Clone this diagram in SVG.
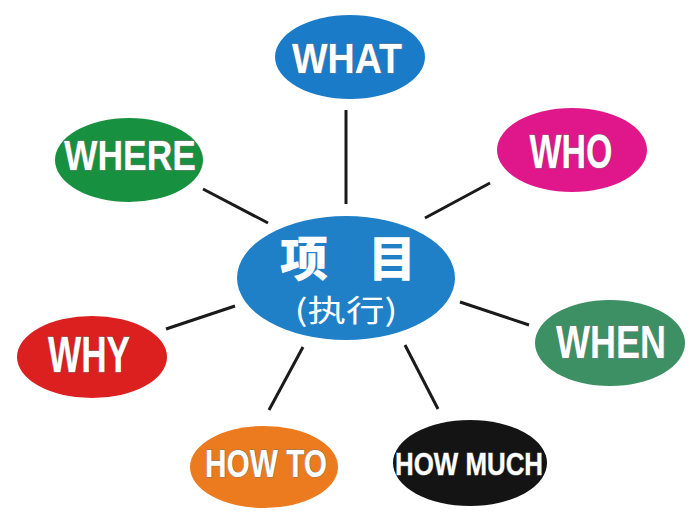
<svg xmlns="http://www.w3.org/2000/svg" width="700" height="524" viewBox="0 0 700 524">
<style>
.lbl{font-family:"Liberation Sans",Arial,sans-serif;font-weight:bold;fill:#fff;stroke:#7a7a7a;stroke-width:1;paint-order:stroke;text-anchor:middle}
.cjk{font-family:"Noto Sans CJK SC",sans-serif;fill:#fff;text-anchor:middle}
.conn line{stroke:#1a1a1a;stroke-width:3;stroke-linecap:butt}
</style>
<rect width="700" height="524" fill="#fff"/>
<g id="connectors" class="conn">
<line x1="346" y1="110" x2="346" y2="204"/>
<line x1="490" y1="183" x2="425" y2="218"/>
<line x1="203" y1="189" x2="268" y2="223"/>
<line x1="166" y1="329" x2="235" y2="306"/>
<line x1="460" y1="302" x2="529" y2="325"/>
<line x1="303" y1="347" x2="269" y2="410"/>
<line x1="405" y1="345" x2="438" y2="409"/>
</g>
<g id="center">
<ellipse cx="346" cy="278" rx="109" ry="62" fill="#1f80c8"/>
<text class="cjk" x="304" y="276" font-size="48" font-weight="900">项</text>
<text class="cjk" x="392" y="276" font-size="48" font-weight="900">目</text>
<text class="cjk" x="346" y="321" font-size="30" textLength="103" lengthAdjust="spacingAndGlyphs">(执行)</text>
</g>
<g id="what">
<ellipse cx="350" cy="57" rx="75" ry="42" fill="#1a7bc9"/>
<text class="lbl" x="347" y="73" font-size="43" textLength="110" lengthAdjust="spacingAndGlyphs">WHAT</text>
</g>
<g id="who">
<ellipse cx="572" cy="150" rx="75" ry="42" fill="#e0178a"/>
<text class="lbl" x="571" y="168" font-size="48" textLength="83" lengthAdjust="spacingAndGlyphs">WHO</text>
</g>
<g id="where">
<ellipse cx="129" cy="160" rx="74" ry="42" fill="#17913f"/>
<text class="lbl" x="130" y="170" font-size="42" textLength="132" lengthAdjust="spacingAndGlyphs">WHERE</text>
</g>
<g id="why">
<ellipse cx="92" cy="357" rx="75" ry="41" fill="#dc1f1f"/>
<text class="lbl" x="89" y="372" font-size="50" textLength="82" lengthAdjust="spacingAndGlyphs">WHY</text>
</g>
<g id="when">
<ellipse cx="610" cy="343" rx="75" ry="43" fill="#3d8f64"/>
<text class="lbl" x="611" y="358" font-size="47" textLength="110" lengthAdjust="spacingAndGlyphs">WHEN</text>
</g>
<g id="howto">
<ellipse cx="264" cy="467" rx="74" ry="41" fill="#ec7a1e"/>
<text class="lbl" x="266" y="477" font-size="38" textLength="122" lengthAdjust="spacingAndGlyphs">HOW TO</text>
</g>
<g id="howmuch">
<ellipse cx="470" cy="463" rx="77" ry="43" fill="#141414"/>
<text class="lbl" x="469" y="475" font-size="32" textLength="148" lengthAdjust="spacingAndGlyphs">HOW MUCH</text>
</g>
</svg>
